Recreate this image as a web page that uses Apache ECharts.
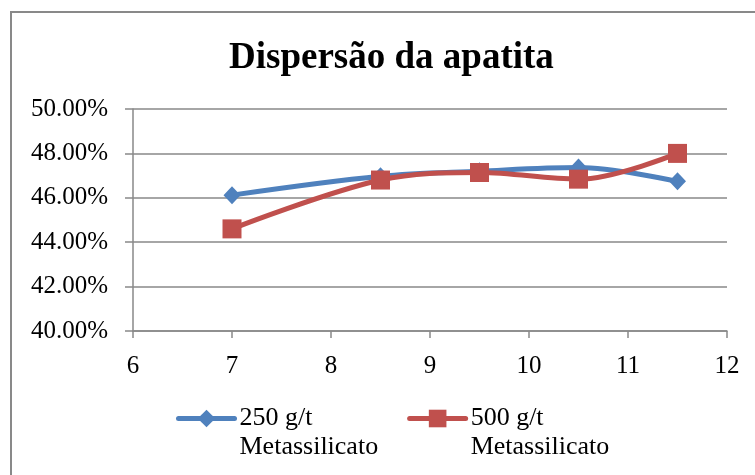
<!DOCTYPE html>
<html>
<head>
<meta charset="utf-8">
<script src="https://cdn.jsdelivr.net/npm/echarts@6/dist/echarts.min.js"></script>
<style>
  html, body { margin: 0; padding: 0; background: #fff; }
  #chart { width: 755px; height: 475px; }
</style>
</head>
<body>
<div id="chart"></div>
<script>
// pH values on the x axis
const phValues = [7, 8.5, 9.5, 10.5, 11.5];
// Apatite dispersion (%) for each dosage
const dose250 = [46.12, 46.97, 47.20, 47.36, 46.74];
const dose500 = [44.60, 46.80, 47.14, 46.84, 48.00];
const seriesNames = ['250 g/t\nMetassilicato', '500 g/t\nMetassilicato'];
const chartTitle = 'Dispersão da apatita';

const serif = '"Liberation Serif", "Times New Roman", serif';
const axisGray = '#898989';

const pairs = (xs, ys) => xs.map((x, i) => [x, ys[i]]);

const chart = echarts.init(document.getElementById('chart'), null, { renderer: 'canvas' });
chart.setOption({
  animation: false,
  backgroundColor: '#ffffff',
  title: {
    text: chartTitle,
    left: 224,
    top: 35,
    textStyle: { fontFamily: serif, fontWeight: 'bold', fontSize: 37, color: '#000' }
  },
  graphic: [{
    type: 'rect',
    shape: { x: 11, y: 12, width: 780, height: 520 },
    style: { fill: 'none', stroke: axisGray, lineWidth: 2 },
    silent: true
  }],
  grid: { left: 133, right: 28, top: 109, bottom: 144 },
  xAxis: {
    type: 'value',
    min: 6, max: 12, interval: 1,
    axisLine: { show: true, lineStyle: { color: axisGray, width: 1.5 } },
    axisTick: { show: true, length: 7, lineStyle: { color: axisGray, width: 1.5 } },
    splitLine: { show: false },
    axisLabel: { fontFamily: serif, fontSize: 25, color: '#000', margin: 23 }
  },
  yAxis: {
    type: 'value',
    min: 40, max: 50, interval: 2,
    axisLine: { show: true, lineStyle: { color: axisGray, width: 1.5 } },
    axisTick: { show: true, length: 8, lineStyle: { color: axisGray, width: 1.5 } },
    splitLine: { show: true, lineStyle: { color: axisGray, width: 1.5 } },
    axisLabel: {
      fontFamily: serif, fontSize: 25, color: '#000', margin: 25,
      formatter: v => v.toFixed(2) + '%'
    }
  },
  legend: {
    left: 176,
    top: 375,
    padding: 0,
    itemWidth: 56,
    itemHeight: 22,
    itemGap: 29,
    // a blank first line keeps the series name's first line level with the icon
    formatter: name => ' \n' + name,
    textStyle: { fontFamily: serif, fontSize: 26, color: '#000', lineHeight: 29 },
    lineStyle: { width: 5, cap: 'round' },
    data: seriesNames
  },
  series: [
    {
      name: seriesNames[0],
      type: 'line',
      smooth: 0.35,
      data: pairs(phValues, dose250),
      symbol: 'diamond',
      symbolSize: [17, 18],
      color: '#4F81BD',
      lineStyle: { width: 5, color: '#4F81BD', cap: 'round' },
      itemStyle: { color: '#4F81BD' }
    },
    {
      name: seriesNames[1],
      type: 'line',
      smooth: 0.35,
      data: pairs(phValues, dose500),
      symbol: 'rect',
      symbolSize: 19,
      color: '#C0504D',
      lineStyle: { width: 5, color: '#C0504D', cap: 'round' },
      itemStyle: { color: '#C0504D' }
    }
  ]
});
</script>
</body>
</html>
